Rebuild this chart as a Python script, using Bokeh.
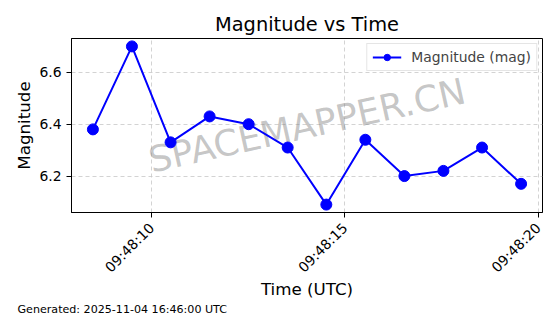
import math
import pandas as pd
from bokeh.plotting import figure
from bokeh.models import Range1d, FixedTicker, DatetimeTickFormatter, Label, Title
from bokeh.embed import file_html
from bokeh.resources import INLINE

# ---- data ----
date = "2025-11-04"
times = ["09:48:08.48", "09:48:09.49", "09:48:10.49", "09:48:11.50",
         "09:48:12.51", "09:48:13.52", "09:48:14.52", "09:48:15.53",
         "09:48:16.54", "09:48:17.55", "09:48:18.55", "09:48:19.56"]
magnitudes = [6.38, 6.70, 6.33, 6.43, 6.40, 6.31, 6.09, 6.34, 6.20, 6.22, 6.31, 6.17]
x_tick_labels = ["09:48:10", "09:48:15", "09:48:20"]
y_ticks = [6.2, 6.4, 6.6]
series_name = "Magnitude (mag)"
title_text = "Magnitude vs Time"
x_label = "Time (UTC)"
y_label = "Magnitude"
footer_text = "Generated: 2025-11-04 16:46:00 UTC"
watermark_text = "SPACEMAPPER.CN"

FONT = "DejaVu Sans"
EPOCH = pd.Timestamp("1970-01-01")


def to_ms(strings):
    ts = pd.to_datetime([f"{date} {s}" for s in strings])
    return [float((t - EPOCH) / pd.Timedelta(milliseconds=1)) for t in ts]


x = to_ms(times)
x_ticks = to_ms(x_tick_labels)

xpad = (max(x) - min(x)) * 0.05
ypad = (max(magnitudes) - min(magnitudes)) * 0.05
x0, x1 = min(x) - xpad, max(x) + xpad
y0, y1 = min(magnitudes) - ypad, max(magnitudes) + ypad

p = figure(width=560, height=314, x_axis_type="datetime",
           x_range=Range1d(x0, x1), y_range=Range1d(y0, y1),
           output_backend="svg", toolbar_location=None,
           min_border_left=71, min_border_right=18,
           min_border_top=38, min_border_bottom=102,
           title=title_text)

p.background_fill_color = "white"
p.border_fill_color = "white"
p.outline_line_color = "black"
p.outline_line_width = 1
p.outline_line_alpha = 1

p.title.align = "center"
p.title.text_font = FONT
p.title.text_font_size = "19.4px"
p.title.text_font_style = "normal"
p.title.text_color = "black"
p.title.standoff = 6

p.grid.grid_line_color = "#c8c8c8"
p.grid.grid_line_dash = "4 3"
p.grid.grid_line_width = 0.8

for ax in (p.xaxis[0], p.yaxis[0]):
    ax.axis_line_color = "black"
    ax.major_tick_line_color = "black"
    ax.major_tick_out = 5
    ax.major_tick_in = 0
    ax.minor_tick_line_color = None
    ax.major_label_text_font = FONT
    ax.major_label_text_font_size = "13.9px"
    ax.major_label_text_color = "black"
    ax.axis_label_text_font = FONT
    ax.axis_label_text_font_size = "16.7px"
    ax.axis_label_text_font_style = "normal"
    ax.axis_label_text_color = "black"

p.xaxis.ticker = FixedTicker(ticks=x_ticks)
fmt = "%H:%M:%S"
p.xaxis.formatter = DatetimeTickFormatter(
    milliseconds=fmt, seconds=fmt, minsec=fmt, minutes=fmt,
    hourmin=fmt, hours=fmt, days=fmt, months=fmt, years=fmt)
p.xaxis.major_label_orientation = math.pi / 4
p.xaxis.major_label_standoff = 8
p.xaxis.axis_label = x_label
p.xaxis.axis_label_standoff = -5

p.yaxis.ticker = FixedTicker(ticks=y_ticks)
p.yaxis.axis_label = y_label
p.yaxis.axis_label_standoff = 2

# watermark (behind data)
wm = Label(x=(x0 + x1) / 2, y=(y0 + y1) / 2, text=watermark_text,
           angle=12.5, angle_units="deg", text_align="center",
           text_baseline="middle", text_font=FONT, text_font_size="36px",
           text_color="#808080", text_alpha=0.45, level="underlay")
p.add_layout(wm)

p.line(x, magnitudes, line_color="#0000ff", line_width=2, legend_label=series_name)
p.scatter(x, magnitudes, size=11, fill_color="#0000ff", line_color="#0000ff",
          legend_label=series_name)

lg = p.legend[0]
lg.location = "top_right"
lg.margin = 5
lg.padding = 5
lg.spacing = 0
lg.glyph_width = 29
lg.glyph_height = 16
lg.label_height = 16
lg.label_standoff = 10
lg.label_text_font = FONT
lg.label_text_font_size = "13.9px"
lg.border_line_color = "#cccccc"
lg.border_line_width = 1
lg.background_fill_alpha = 0.8

footer = Title(text=footer_text, align="left", offset=-54, standoff=-2,
               text_font=FONT, text_font_size="11.1px", text_font_style="normal",
               text_color="black")
p.add_layout(footer, "below")

open("out.html", "w").write(file_html(p, INLINE))
